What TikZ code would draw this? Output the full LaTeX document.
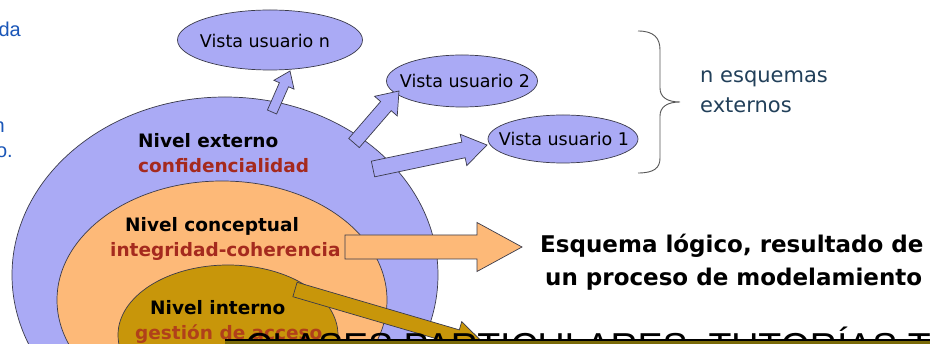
\documentclass[tikz,border=0pt]{standalone}
\usepackage{fontspec}
\setmainfont{DejaVu Sans}
\newfontfamily\arialfont{Liberation Sans}
\usetikzlibrary{shapes.geometric,calc}
\definecolor{lvblue}{HTML}{AAAAF5}
\definecolor{lvorange}{HTML}{FDB978}
\definecolor{lvgold}{HTML}{C8960A}
\definecolor{edgegray}{HTML}{3A3A4A}
\definecolor{darkred}{HTML}{A52A1E}
\definecolor{accred}{HTML}{B0401A}
\definecolor{navytext}{HTML}{22405A}
\definecolor{linkblue}{HTML}{1A56B8}
\definecolor{bandolive}{HTML}{7A6A08}
\definecolor{bracegray}{HTML}{555555}
\tikzset{
  levelshape/.style={ellipse, draw=edgegray, line width=0.7pt, inner sep=0pt},
  vista/.style={ellipse, draw=edgegray, line width=0.7pt, fill=lvblue, inner sep=0pt},
  vistatext/.style={inner sep=0pt, font=\fontsize{17.5}{19}\selectfont},
  lbl/.style={anchor=base west, inner sep=0pt, font=\bfseries\fontsize{18.5}{20}\selectfont},
  bigtext/.style={anchor=base west, inner sep=0pt, font=\bfseries\fontsize{23}{25}\selectfont},
  sidetext/.style={anchor=base west, inner sep=0pt, text=navytext, font=\fontsize{21}{23}\selectfont},
  fragment/.style={anchor=base east, inner sep=0pt, text=linkblue, font=\arialfont\fontsize{20}{22}\selectfont},
  barrow/.style={draw=edgegray, line width=0.7pt, line join=miter},
}
\newcommand\blockarrow[6]{%
  \coordinate (ba-h) at ($(#2)!#5!(#1)$);
  \draw[#6] ($(#1)!#3!90:(#2)$) -- ($(ba-h)!#3!90:(#2)$) -- ($(ba-h)!#4!90:(#2)$) -- (#2)
    -- ($(ba-h)!#4!-90:(#2)$) -- ($(ba-h)!#3!-90:(#2)$) -- ($(#1)!#3!-90:(#2)$) -- cycle;}
\begin{document}
\begin{tikzpicture}[x=1pt,y=-1pt]
\useasboundingbox (0,0) rectangle (930,344);
\clip (0,0) rectangle (930,344);
\fill[white] (0,0) rectangle (930,344);

% left cropped text fragments
\node[fragment] (f1) at (21,37) {da};
\node[fragment] (f2) at (5,133) {n};
\node[fragment] (f3) at (13,158) {o.};

% level ellipses
\node[levelshape, fill=lvblue, minimum width=426pt, minimum height=356pt] (ext) at (225,275) {};
\node[levelshape, fill=lvorange, minimum width=330pt, minimum height=238pt] (con) at (222,300) {};
\node[levelshape, fill=lvgold, minimum width=220pt, minimum height=140pt] (int) at (228,335) {};

% external views
\node[vista, minimum width=185pt, minimum height=60pt] (vn) at (270,40) {};
\node[vista, minimum width=151pt, minimum height=52pt] (v2) at (462,81) {};
\node[vista, minimum width=150pt, minimum height=48pt] (v1) at (563,139) {};
\node[vistatext] (tn) at (265,41) {Vista usuario n};
\node[vistatext] (t2) at (465,81) {Vista usuario 2};
\node[vistatext] (t1) at (564,139) {Vista usuario 1};

% arrow coordinates
\coordinate (a1s) at (272,112);  \coordinate (a1e) at (290,71);
\coordinate (a2s) at (354,143);  \coordinate (a2e) at (399,91);
\coordinate (a3s) at (373,169);  \coordinate (a3e) at (487,145);
\coordinate (aos) at (345,247);  \coordinate (aoe) at (522,247);
\coordinate (ags) at (295,289.5);\coordinate (age) at (486,345.5);

\blockarrow{a1s}{a1e}{5pt}{11pt}{15pt}{barrow, fill=lvblue}
\blockarrow{a2s}{a2e}{7pt}{15pt}{20pt}{barrow, fill=lvblue}
\blockarrow{a3s}{a3e}{8pt}{16pt}{24pt}{barrow, fill=lvblue}
\blockarrow{aos}{aoe}{12pt}{24.5pt}{45pt}{barrow, fill=lvorange}
\blockarrow{ags}{age}{7.5pt}{16pt}{30pt}{barrow, fill=lvgold}

% brace
\coordinate (brtop) at (638,31);
\coordinate (brtip) at (680,102);
\coordinate (brbot) at (638,173);
\draw[bracegray, line width=0.9pt] (brtop) .. controls (654,31) and (660,38) .. (660,50) -- (660,88)
  .. controls (660,97) and (667,102) .. (brtip) .. controls (667,102) and (660,107) .. (660,116)
  -- (660,158) .. controls (660,168) and (654,173) .. (brbot);
\node[sidetext] (s1) at (700,83) {n esquemas};
\node[sidetext] (s2) at (700,113) {externos};

% level labels
\node[lbl] (l1) at (138,148) {Nivel externo};
\node[lbl, text=darkred] (l1b) at (138,173) {confidencialidad};
\node[lbl] (l2) at (125,232) {Nivel conceptual};
\node[lbl, text=darkred] (l2b) at (110,257) {integridad-coherencia};
\node[lbl] (l3) at (150,315) {Nivel interno};
\node[lbl, text=accred] (l3b) at (135,340) {gestión de acceso};

% logical schema text
\node[bigtext] (e1) at (540,253) {Esquema lógico, resultado de};
\node[bigtext] (e2) at (545,286) {un proceso de modelamiento};

% bottom overlay banner
\node[anchor=base west, inner sep=0pt, font=\arialfont\fontsize{37.5}{40}\selectfont] (ov) at (245,360) {CLASES PARTICULARES, TUTORÍAS T};
\fill[black] (225,339) rectangle (930,341.5);
\fill[bandolive] (225,341.5) rectangle (930,344);
\end{tikzpicture}
\end{document}
